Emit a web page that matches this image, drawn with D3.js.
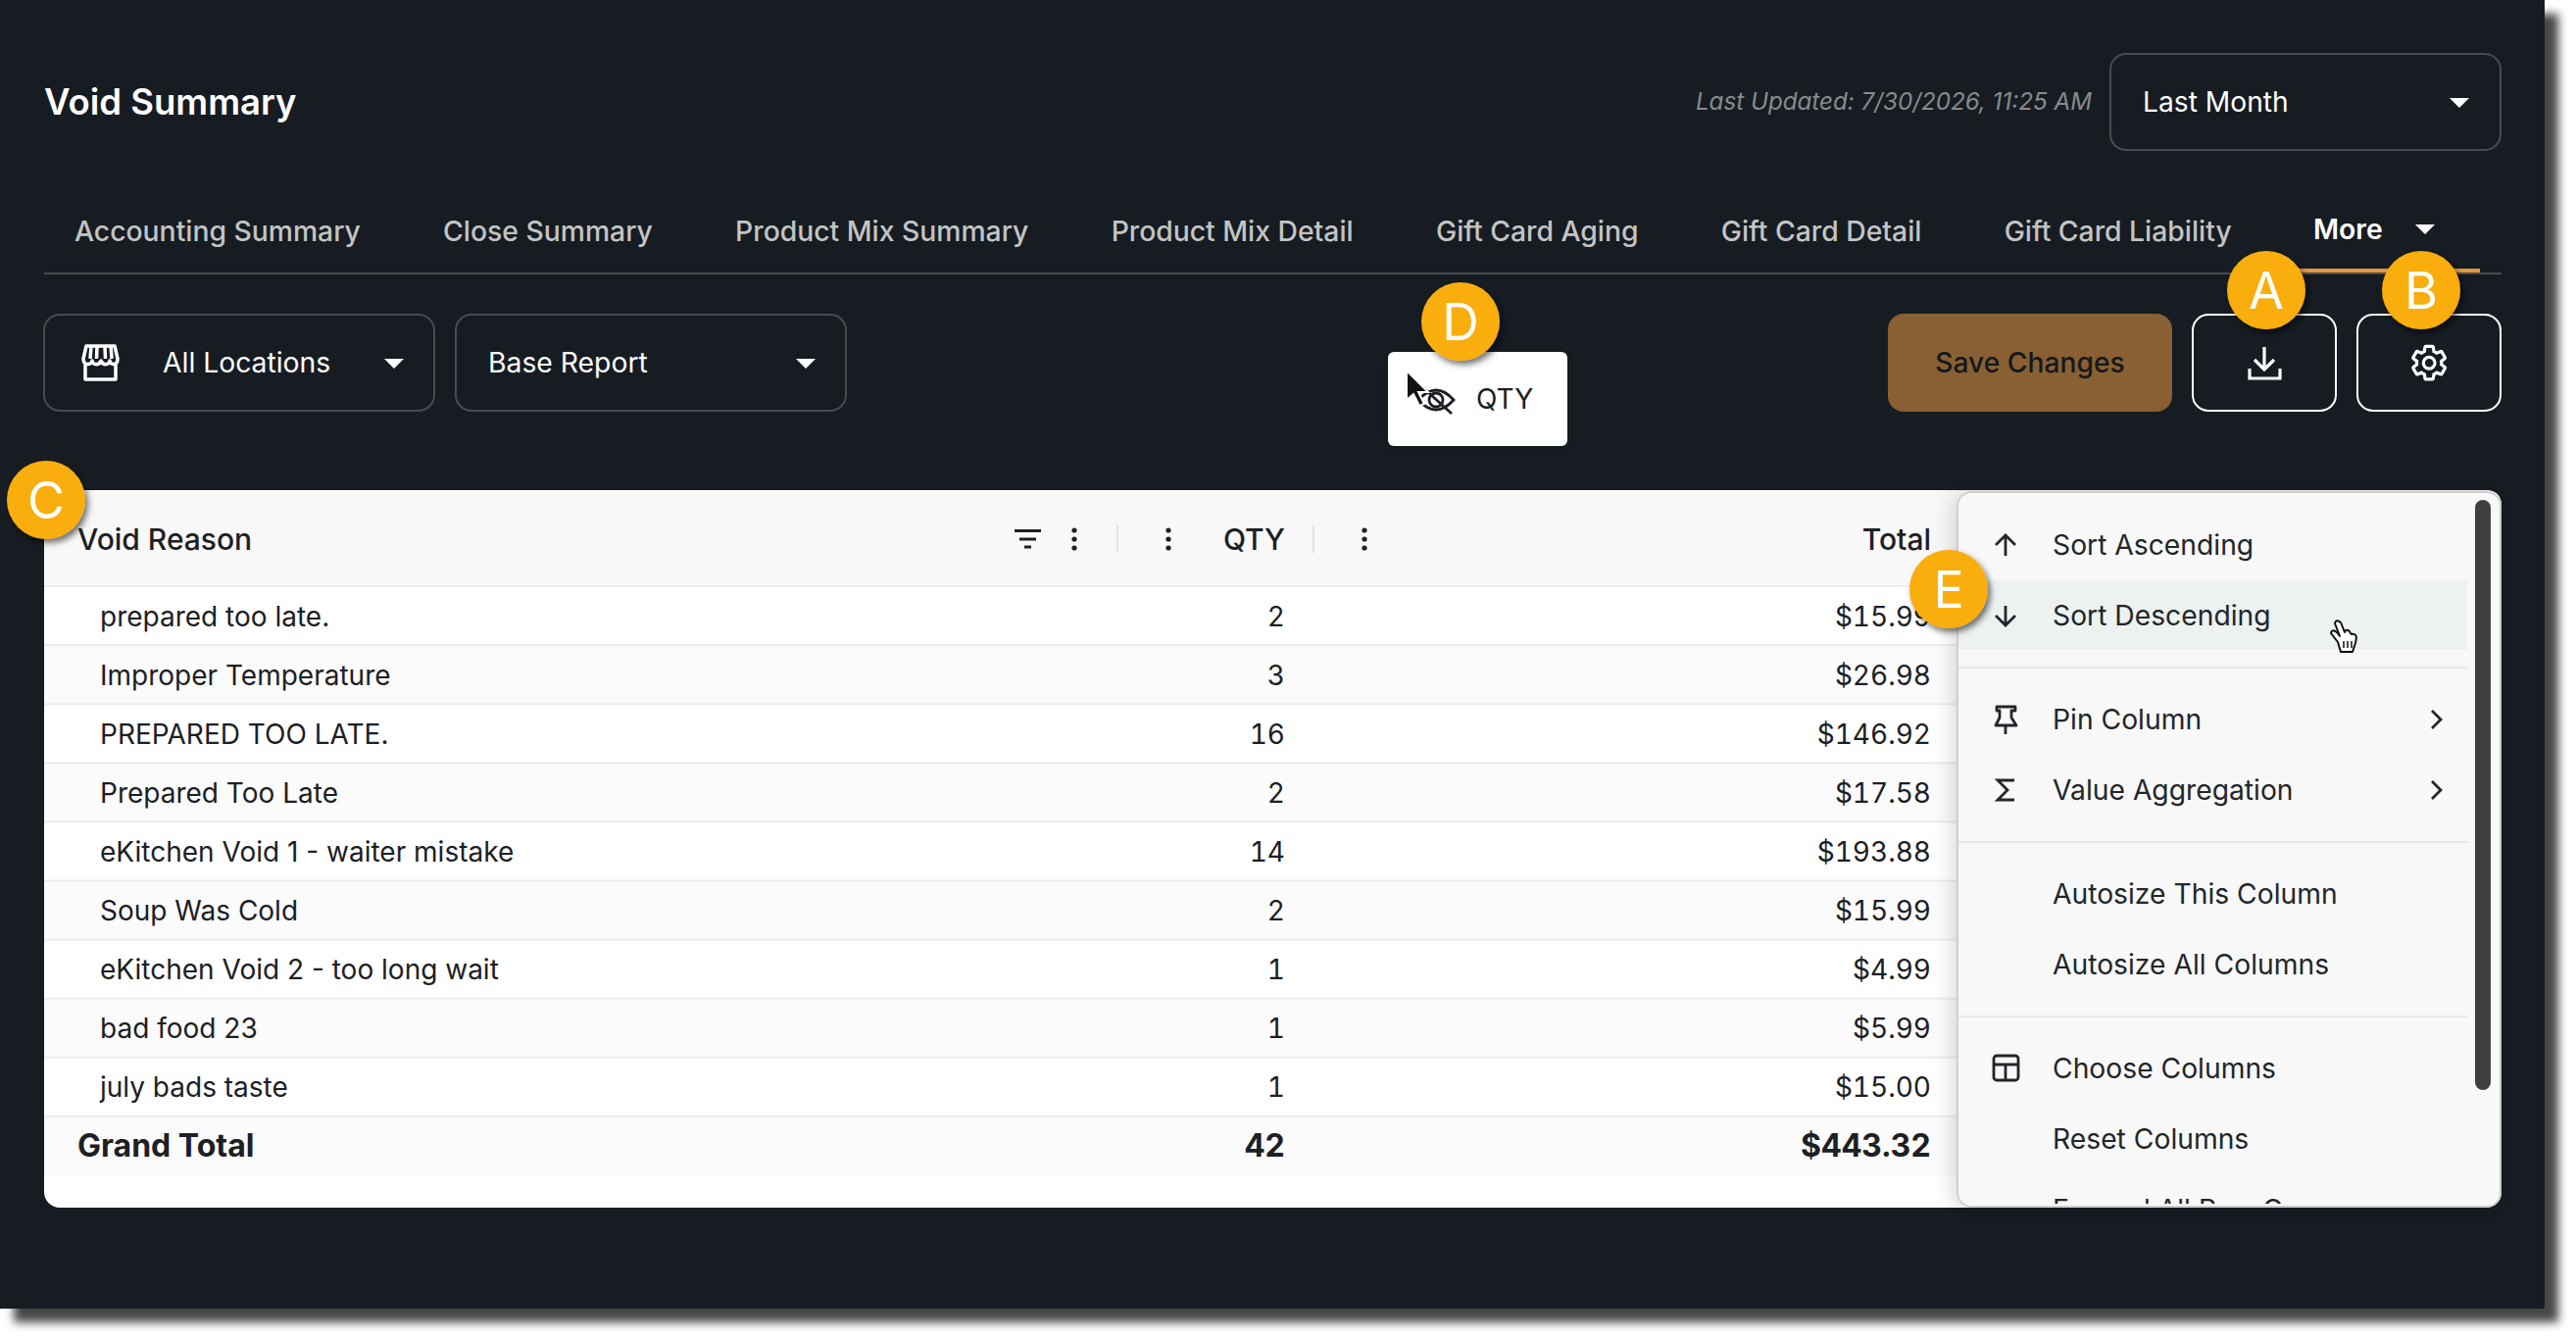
<!DOCTYPE html>
<html>
<head>
<meta charset="utf-8">
<script src="https://cdn.jsdelivr.net/npm/d3@7"></script>
<style>
  html, body { margin: 0; padding: 0; background: #fff; overflow: hidden; }
  svg { display: block; font-family: Inter, "Noto Sans", sans-serif; }
  .num { font-variant-numeric: tabular-nums; font-feature-settings: "tnum" 1; }
</style>
</head>
<body>
<svg id="plot" width="2628" height="1366"></svg>
<script>
const tabLabels = ['Accounting Summary', 'Close Summary', 'Product Mix Summary', 'Product Mix Detail',
  'Gift Card Aging', 'Gift Card Detail', 'Gift Card Liability'];
const voidReasons = ['prepared too late.', 'Improper Temperature', 'PREPARED TOO LATE.', 'Prepared Too Late',
  'eKitchen Void 1 - waiter mistake', 'Soup Was Cold', 'eKitchen Void 2 - too long wait', 'bad food 23', 'july bads taste'];
const qtyValues = [2, 3, 16, 2, 14, 2, 1, 1, 1];
const totalValues = [15.99, 26.98, 146.92, 17.58, 193.88, 15.99, 4.99, 5.99, 15.00];
const grandTotalLabel = 'Grand Total';
const grandQty = 42;
const grandTotal = 443.32;
const menuLabels = ['Sort Ascending', 'Sort Descending', 'Pin Column', 'Value Aggregation',
  'Autosize This Column', 'Autosize All Columns', 'Choose Columns', 'Reset Columns', 'Expand All Row Groups'];
const badgeLabels = ['A', 'B', 'C', 'D', 'E'];

const svg = d3.select('#plot');
const money = d3.format('$,.2f');

const defs = svg.append('defs');
function addShadow(id, dx, dy, sd, opacity) {
  defs.append('filter').attr('id', id)
    .attr('x', '-30%').attr('y', '-30%').attr('width', '160%').attr('height', '160%')
    .append('feDropShadow')
    .attr('dx', dx).attr('dy', dy).attr('stdDeviation', sd)
    .attr('flood-color', '#000').attr('flood-opacity', opacity);
}
addShadow('panelShadow', 14, 14, 5, 0.72);
addShadow('menuShadow', -3, 2, 11, 0.16);
addShadow('badgeShadow', 3, 4, 3, 0.55);
addShadow('tipShadow', 0, 2, 6, 0.12);
defs.append('clipPath').attr('id', 'menuClip')
  .append('rect').attr('x', 1997).attr('y', 502).attr('width', 554).attr('height', 726).attr('rx', 14);

function txt(parent, x, y, label, size, weight, fill, anchor) {
  return parent.append('text')
    .attr('x', x).attr('y', y)
    .attr('font-size', size).attr('font-weight', weight)
    .attr('fill', fill).attr('text-anchor', anchor || 'start')
    .text(label);
}
function caret(parent, cx, top, w, h, fill) {
  parent.append('path')
    .attr('d', `M${cx - w / 2},${top}L${cx + w / 2},${top}L${cx},${top + h}Z`)
    .attr('fill', fill || '#fff');
}
function box(parent, x, y, w, h, stroke) {
  parent.append('rect').attr('x', x).attr('y', y).attr('width', w).attr('height', h)
    .attr('rx', 16).attr('fill', 'none').attr('stroke', stroke).attr('stroke-width', 2);
}

// Dark panel
svg.append('rect').attr('width', 2596).attr('height', 1335)
  .attr('fill', '#161a20').attr('filter', 'url(#panelShadow)');

// Header
txt(svg, 45, 117, 'Void Summary', 36.5, 600, '#fff');
txt(svg, 2134, 112, 'Last Updated: 7/30/2026, 11:25 AM', 24.2, 400, '#8a8b8d', 'end').attr('font-style', 'italic');
box(svg, 2153, 55, 398, 98, '#4a4b4e');
txt(svg, 2186, 114, 'Last Month', 28.2, 400, '#fff');
caret(svg, 2509, 100, 20, 10);

// Tabs
const tabs = svg.append('g');
let tabX = 76;
tabLabels.forEach(label => {
  const t = txt(tabs, tabX, 246, label, 28.3, 500, '#c4c4c4');
  tabX += t.node().getComputedTextLength() + 84.3;
});
txt(tabs, 2360, 244, 'More', 28.3, 600, '#fff');
caret(tabs, 2474, 229, 20, 10);
svg.append('rect').attr('x', 45).attr('y', 278).attr('width', 2507).attr('height', 2).attr('fill', '#4a4b4e');
svg.append('rect').attr('x', 2328).attr('y', 274).attr('width', 202).attr('height', 4).attr('fill', '#e0983f');

// Toolbar
box(svg, 45, 321, 398, 98, '#4a4b4e');
box(svg, 465, 321, 398, 98, '#4a4b4e');
txt(svg, 166, 380, 'All Locations', 28.3, 400, '#fff');
txt(svg, 498, 380, 'Base Report', 28.3, 400, '#fff');
caret(svg, 402, 366, 20, 10);
caret(svg, 822, 366, 20, 10);

const store = svg.append('g').attr('transform', 'translate(83,352)')
  .attr('fill', 'none').attr('stroke', '#fff').attr('stroke-width', 3.5).attr('stroke-linejoin', 'round');
store.append('path').attr('d', 'M2,14L5,1L34,1L37,14C37,21 30,21 29,16C28,21 22,21 20,16C18,21 12,21 11,16C10,21 2,21 2,14Z');
store.append('path').attr('d', 'M10,1L9,14M16,1L15.5,14M24,1L24.5,14M30,1L31,14');
store.append('path').attr('d', 'M4,20L4,35L35,35L35,20');

svg.append('rect').attr('x', 1926).attr('y', 320).attr('width', 290).attr('height', 100).attr('rx', 16).attr('fill', '#886033');
txt(svg, 2071, 380, 'Save Changes', 28.2, 500, '#16181b', 'middle');

box(svg, 2237, 321, 146, 98, '#fff');
box(svg, 2405, 321, 146, 98, '#fff');
svg.append('path')
  .attr('d', 'M2310,354L2310,377M2300,367L2310,377L2320,367M2295,376L2295,386L2326,386L2326,376')
  .attr('fill', 'none').attr('stroke', '#fff').attr('stroke-width', 3.2);
svg.append('path')
  .attr('transform', 'translate(2458,350) scale(1.68)')
  .attr('d', 'M19.43 12.98c.04-.32.07-.64.07-.98 0-.34-.03-.66-.07-.98l2.11-1.65c.19-.15.24-.42.12-.64l-2-3.46c-.09-.16-.26-.25-.44-.25-.06 0-.12.01-.17.03l-2.49 1c-.52-.4-1.08-.73-1.69-.98l-.38-2.65C14.46 2.18 14.25 2 14 2h-4c-.25 0-.46.18-.49.42l-.38 2.65c-.61.25-1.17.59-1.69.98l-2.49-1c-.06-.02-.12-.03-.18-.03-.17 0-.34.09-.43.25l-2 3.46c-.13.22-.07.49.12.64l2.11 1.65c-.04.32-.07.65-.07.98 0 .33.03.66.07.98l-2.11 1.65c-.19.15-.24.42-.12.64l2 3.46c.09.16.26.25.44.25.06 0 .12-.01.17-.03l2.49-1c.52.4 1.08.73 1.69.98l.38 2.65c.03.24.24.42.49.42h4c.25 0 .46-.18.49-.42l.38-2.65c.61-.25 1.17-.59 1.69-.98l2.49 1c.06.02.12.03.18.03.17 0 .34-.09.43-.25l2-3.46c.12-.22.07-.49-.12-.64l-2.11-1.65zM12 15.5c-1.93 0-3.5-1.57-3.5-3.5s1.57-3.5 3.5-3.5 3.5 1.57 3.5 3.5-1.57 3.5-3.5 3.5z')
  .attr('fill', 'none').attr('stroke', '#fff').attr('stroke-width', 1.9);

// Drag tooltip
svg.append('rect').attr('x', 1416).attr('y', 359).attr('width', 183).attr('height', 96).attr('rx', 6)
  .attr('fill', '#fff').attr('filter', 'url(#tipShadow)');
txt(svg, 1506, 417, 'QTY', 28, 400, '#1c2025');
const eye = svg.append('g').attr('fill', 'none').attr('stroke', '#1c2025').attr('stroke-width', 2.8);
eye.append('path').attr('d', 'M1447,408Q1465,388 1483,408Q1465,428 1447,408Z');
eye.append('circle').attr('cx', 1465).attr('cy', 408).attr('r', 7);
eye.append('path').attr('d', 'M1449,393L1481,422');
svg.append('path').attr('d', 'M1435,378L1435,408L1442,402L1448,414L1453,412L1447,400L1457,400Z')
  .attr('fill', '#111').attr('stroke', '#fff').attr('stroke-width', 2);

// Table
const card = svg.append('g');
card.append('rect').attr('x', 45).attr('y', 500).attr('width', 2507).attr('height', 732).attr('rx', 16).attr('fill', '#fff');
card.append('path').attr('d', 'M45,598L45,516Q45,500 61,500L2536,500Q2552,500 2552,516L2552,598Z').attr('fill', '#f8f8f8');

const rowKeys = voidReasons.concat([grandTotalLabel]);
const rowScale = d3.scaleBand().domain(rowKeys).range([598, 1199]);
const rowData = rowKeys.map((name, i) => ({
  name, i,
  qty: i < qtyValues.length ? qtyValues[i] : grandQty,
  total: i < totalValues.length ? totalValues[i] : grandTotal,
  grand: name === grandTotalLabel
}));

const rows = card.selectAll('g.row').data(rowData).join('g').attr('class', 'row')
  .attr('transform', d => `translate(0,${rowScale(d.name)})`);
rows.append('rect').attr('x', 45).attr('width', 2507).attr('height', rowScale.bandwidth())
  .attr('fill', d => d.i % 2 ? '#fbfbfb' : '#fff');
rows.append('rect').attr('x', 45).attr('width', 2507).attr('height', 2).attr('y', -1).attr('fill', '#ececec');
rows.append('text').attr('x', d => d.grand ? 79 : 102).attr('y', d => d.grand ? 41.5 : 40.5)
  .attr('font-size', d => d.grand ? 32 : 28).attr('font-weight', d => d.grand ? 700 : 400)
  .attr('fill', '#1c2025').text(d => d.name);
rows.append('text').attr('class', 'num').attr('x', 1311).attr('y', d => d.grand ? 41.5 : 40.5).attr('text-anchor', 'end')
  .attr('font-size', d => d.grand ? 32 : 28).attr('font-weight', d => d.grand ? 700 : 400)
  .attr('fill', '#1c2025').text(d => d.qty);
rows.append('text').attr('class', 'num').attr('x', 1970).attr('y', d => d.grand ? 41.5 : 40.5).attr('text-anchor', 'end')
  .attr('font-size', d => d.grand ? 32 : 28).attr('font-weight', d => d.grand ? 700 : 400)
  .attr('fill', '#1c2025').text(d => money(d.total));

// Column headers
txt(card, 79, 561, 'Void Reason', 30, 500, '#1c2025');
txt(card, 1311, 561, 'QTY', 30, 500, '#1c2025', 'end');
txt(card, 1970, 561, 'Total', 30, 500, '#1c2025', 'end');
card.append('path').attr('d', 'M1035,541.5L1062,541.5M1040,550L1057,550M1045,558L1052,558')
  .attr('stroke', '#1c2025').attr('stroke-width', 3.2);
[1096, 1192, 1392].forEach(x => {
  [541, 550, 559].forEach(y => {
    card.append('circle').attr('cx', x).attr('cy', y).attr('r', 2.6).attr('fill', '#1c2025');
  });
});
[1140, 1340].forEach(x => {
  card.append('rect').attr('x', x - 1).attr('y', 536).attr('width', 2).attr('height', 28).attr('fill', '#e2e2e2');
});

// Column menu
const menu = svg.append('g');
menu.append('rect').attr('x', 1997).attr('y', 502).attr('width', 554).attr('height', 729).attr('rx', 14)
  .attr('fill', '#f8f8f8').attr('stroke', '#cfcfcf').attr('stroke-width', 2).attr('filter', 'url(#menuShadow)');
const menuBody = menu.append('g').attr('clip-path', 'url(#menuClip)');
menuBody.append('rect').attr('x', 1998).attr('y', 592).attr('width', 519).attr('height', 71).attr('fill', '#edf1f0');
[681, 859, 1037].forEach(y => {
  menuBody.append('rect').attr('x', 1998).attr('y', y - 1).attr('width', 519).attr('height', 2).attr('fill', '#e8e8e8');
});
const menuBaselines = [566, 638, 744, 816, 922, 994, 1100, 1172, 1244];
menuBody.selectAll('text.item').data(menuLabels).join('text').attr('class', 'item')
  .attr('x', 2094).attr('y', (d, i) => menuBaselines[i])
  .attr('font-size', 28.25).attr('fill', '#22262b').text(d => d);
menu.append('rect').attr('x', 2525).attr('y', 510).attr('width', 16).attr('height', 602).attr('rx', 8).attr('fill', '#3f3f3f');

const icons = menu.append('g').attr('fill', 'none').attr('stroke', '#22262b').attr('stroke-width', 2.8);
icons.append('path').attr('d', 'M2046,567L2046,546M2036,556L2046,546L2056,556');
icons.append('path').attr('d', 'M2046,618L2046,638M2036,628L2046,638L2056,628');
icons.append('path').attr('d', 'M2037,721L2056,721L2056,725L2052,725L2052,732L2057,740L2036,740L2040,732L2040,725L2037,725ZM2046,740L2046,749')
  .attr('stroke-linejoin', 'round');
icons.append('path').attr('d', 'M2055,796L2038,796L2048,806L2038,816L2055,816');
icons.append('rect').attr('x', 2034).attr('y', 1077).attr('width', 25).attr('height', 25).attr('rx', 3);
icons.append('path').attr('d', 'M2034,1086L2059,1086M2046,1086L2046,1102');
icons.append('path').attr('d', 'M2481,725L2490,734L2481,743M2481,797L2490,806L2481,815');

// Hand cursor
const hand = svg.append('g').attr('transform', 'translate(-3,0)');
hand.append('path')
  .attr('d', 'M2388,655L2381,646Q2382,641 2387,645L2390,649L2385,636Q2386,631 2391,635L2395,645L2395,644Q2399,641 2401,646L2402,647Q2406,646 2407,650L2406,656L2403,665L2391,665Z')
  .attr('fill', '#fff').attr('stroke', '#111').attr('stroke-width', 2).attr('stroke-linejoin', 'round');
hand.append('path').attr('d', 'M2394,654L2394,661M2398,654L2398,661M2402,654L2402,661').attr('stroke', '#111').attr('stroke-width', 1.5);

// Callout badges
const badgeX = d3.scaleOrdinal().domain(badgeLabels).range([2312, 2470, 47, 1490, 1988]);
const badgeY = d3.scaleOrdinal().domain(badgeLabels).range([296, 296, 510, 328, 601]);
const badges = svg.selectAll('g.badge').data(badgeLabels).join('g').attr('class', 'badge')
  .attr('transform', d => `translate(${badgeX(d)},${badgeY(d)})`);
badges.append('circle').attr('r', 40).attr('fill', '#f9ae0b').attr('filter', 'url(#badgeShadow)');
badges.append('text').attr('text-anchor', 'middle').attr('y', 19).attr('font-size', 52).attr('fill', '#fff').text(d => d);
</script>
</body>
</html>
